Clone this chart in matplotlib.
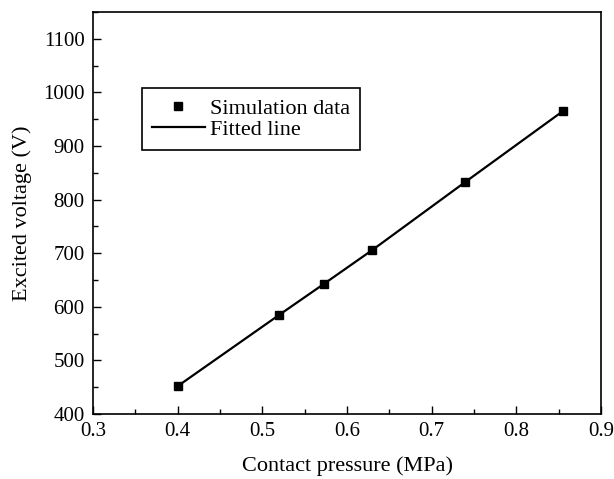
import numpy as np
import matplotlib.pyplot as plt
from matplotlib.ticker import MultipleLocator

# values
pressure = [0.40, 0.52, 0.573, 0.63, 0.739, 0.855]
voltage = [452, 585, 643, 706, 832, 965]

plt.rcParams['font.family'] = ['Liberation Serif', 'DejaVu Serif']

fig = plt.figure(figsize=(6.14, 4.79), dpi=100)
ax = fig.add_axes([0.1515, 0.1357, 0.8273, 0.8393])

ax.plot(pressure, voltage, 'k-', lw=1.6, label='Fitted line', zorder=2)
ax.plot(pressure, voltage, 'ks', ms=6, ls='none', label='Simulation data', zorder=3)

ax.set_xlim(0.3, 0.9)
ax.set_ylim(400, 1150)
ax.xaxis.set_major_locator(MultipleLocator(0.1))
ax.xaxis.set_minor_locator(MultipleLocator(0.05))
ax.yaxis.set_minor_locator(MultipleLocator(50))
ax.set_yticks(range(400, 1101, 100))
ax.tick_params(which='both', direction='in', width=1, labelsize=15)
ax.tick_params(which='major', length=6, pad=6)
ax.tick_params(which='minor', length=3.5)
for s in ax.spines.values():
    s.set_linewidth(1.2)

ax.set_xlabel('Contact pressure (MPa)', fontsize=16, labelpad=11)
ax.set_ylabel('Excited voltage (V)', fontsize=16, labelpad=8)

h, l = ax.get_legend_handles_labels()
leg = ax.legend(h[::-1], l[::-1], loc='upper left', bbox_to_anchor=(0.096, 0.811),
                borderaxespad=0, fancybox=False, edgecolor='black', framealpha=1,
                handlelength=2.4, handletextpad=0.2, labelspacing=0.05,
                borderpad=0.45, fontsize=16)
leg.get_frame().set_linewidth(1.2)

fig.savefig('out.png', dpi=100)
